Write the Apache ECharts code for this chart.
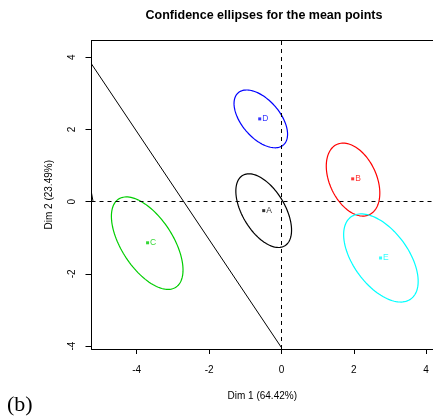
<!DOCTYPE html>
<html>
<head>
<meta charset="utf-8">
<script src="https://cdn.jsdelivr.net/npm/echarts@6/dist/echarts.min.js"></script>
<style>
  html, body { margin: 0; padding: 0; background: #fff; }
  #chart { width: 433px; height: 420px; }
</style>
</head>
<body>
<div id="chart"></div>
<script>
// groups and their mean points
const groups = ['A', 'B', 'C', 'D', 'E'];
const colors = ['#000000', '#ff0000', '#00cd00', '#0000ff', '#00ffff'];
const meanX = [-0.49, 1.97, -3.70, -0.60, 2.74];
const meanY = [-0.25, 0.63, -1.14, 2.29, -1.56];
// ellipse half-widths along x / y and correlation (tilt)
const ellA = [0.77, 0.74, 0.99, 0.74, 1.03];
const ellB = [1.02, 1.01, 1.28, 0.80, 1.22];
const ellRho = [-0.53, -0.37, -0.58, -0.53, -0.53];
const ellCx = [-0.49, 1.98, -3.71, -0.57, 2.75];
const ellCy = [-0.25, 0.61, -1.15, 2.29, -1.56];
// straight line segments
const diagLine = [[-5.25, 3.81], [0, -4.04]];
const spikeLine = [[-5.25, 0.24], [-5.21, 0.02]];
const ticks = [-4, -2, 0, 2, 4];

const font = '"Liberation Sans", Arial, sans-serif';
const xMin = -5.25, xMax = 4.19;
const yMin = -4.08, yMax = 4.46;

const chart = echarts.init(document.getElementById('chart'));

const ellipseSeries = {
  type: 'custom',
  data: groups.map((g, i) => [ellCx[i], ellCy[i], ellA[i], ellB[i], ellRho[i], i]),
  renderItem: function (params, api) {
    const cx = api.value(0), cy = api.value(1);
    const a = api.value(2), b = api.value(3), rho = api.value(4);
    const idx = api.value(5);
    const d = Math.acos(rho);
    const pts = [];
    for (let k = 0; k < 120; k++) {
      const t = k / 120 * Math.PI * 2;
      pts.push(api.coord([cx + a * Math.cos(t), cy + b * Math.cos(t + d)]));
    }
    return {
      type: 'polygon',
      shape: { points: pts },
      style: { fill: 'none', stroke: colors[idx], lineWidth: 1.2 }
    };
  },
  silent: true,
  z: 3
};

const pointSeries = groups.map((g, i) => ({
  type: 'scatter',
  name: g,
  data: [[meanX[i], meanY[i]]],
  symbol: 'rect',
  symbolSize: 3,
  itemStyle: { color: colors[i] },
  label: {
    show: true,
    position: 'right',
    distance: 1,
    formatter: g,
    color: colors[i],
    fontSize: 8.5,
    fontFamily: font
  },
  z: 4
}));

chart.setOption({
  animation: false,
  graphic: [{
    type: 'text',
    x: 264,
    y: 16,
    style: {
      text: 'Confidence ellipses for the mean points',
      align: 'center', verticalAlign: 'middle',
      fontSize: 12.5, fontWeight: 'bold', fontFamily: font, fill: '#000'
    }
  }, {
    type: 'text',
    x: 7,
    y: 405,
    style: {
      text: '(b)', verticalAlign: 'middle',
      fontSize: 22, fontFamily: '"Liberation Serif", "Times New Roman", serif', fill: '#000'
    }
  }],
  grid: { left: 91.5, top: 40.5, right: 0, bottom: 71 },
  xAxis: [{
    type: 'value',
    min: xMin, max: xMax,
    name: 'Dim 1 (64.42%)',
    nameLocation: 'middle',
    nameGap: 42,
    nameTextStyle: { fontSize: 10, fontFamily: font, color: '#000' },
    axisLine: { show: true, onZero: false, lineStyle: { color: '#000', width: 1 } },
    axisTick: { show: true, inside: false, length: 5, customValues: ticks, lineStyle: { color: '#000' } },
    axisLabel: { customValues: ticks, fontSize: 10, fontFamily: font, color: '#000', margin: 16 },
    splitLine: { show: false }
  }, {
    type: 'value',
    position: 'top',
    min: xMin, max: xMax,
    axisLine: { show: true, onZero: false, lineStyle: { color: '#000', width: 1 } },
    axisTick: { show: false },
    axisLabel: { show: false },
    splitLine: { show: false }
  }],
  yAxis: {
    type: 'value',
    min: yMin, max: yMax,
    name: 'Dim 2 (23.49%)',
    nameLocation: 'middle',
    nameGap: 37,
    nameTextStyle: { fontSize: 10, fontFamily: font, color: '#000' },
    axisLine: { show: true, onZero: false, lineStyle: { color: '#000', width: 1 } },
    axisTick: { show: true, inside: false, length: 6, customValues: ticks, lineStyle: { color: '#000' } },
    axisLabel: { customValues: ticks, rotate: 90, fontSize: 10, fontFamily: font, color: '#000', margin: 14 },
    splitLine: { show: false }
  },
  series: [
    {
      type: 'line',
      data: diagLine,
      symbol: 'none',
      lineStyle: { color: '#000', width: 1 },
      markLine: {
        silent: true,
        symbol: 'none',
        label: { show: false },
        lineStyle: { color: '#000', width: 1, type: [4, 4] },
        data: [{ xAxis: 0 }, { yAxis: 0 }]
      },
      z: 2
    },
    {
      type: 'line',
      data: spikeLine,
      symbol: 'none',
      lineStyle: { color: '#000', width: 1 },
      z: 2
    },
    ellipseSeries
  ].concat(pointSeries)
});
</script>
</body>
</html>
